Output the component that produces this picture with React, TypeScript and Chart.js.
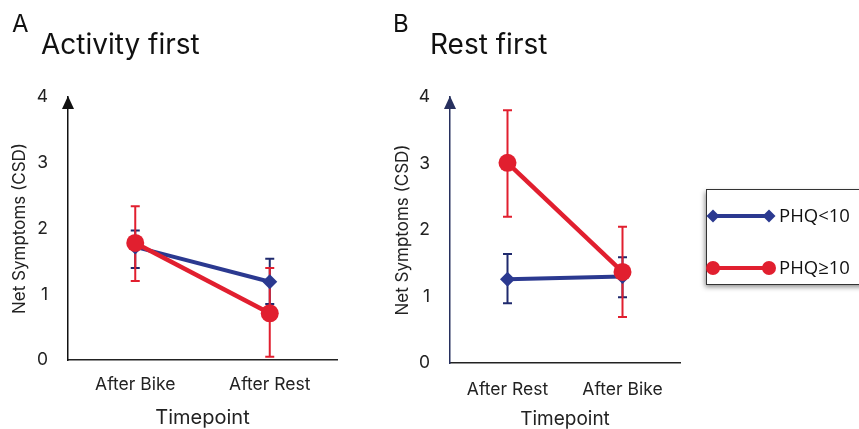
import React, { useEffect, useRef } from "react";
import { Chart, registerables } from "chart.js";

Chart.register(...registerables);

// ---------- data ----------
const categoriesA = ["After Bike", "After Rest"];
const categoriesB = ["After Rest", "After Bike"];
const yTicks = [0, 1, 2, 3, 4];

const seriesNames = ["PHQ<10", "PHQ≥10"];

// Panel A: Activity first
const phqLowA = [1.72, 1.19];
const phqLowALower = [1.40, 0.85];
const phqLowAUpper = [1.97, 1.54];
const phqHighA = [1.78, 0.71];
const phqHighALower = [1.20, 0.05];
const phqHighAUpper = [2.34, 1.40];

// Panel B: Rest first
const phqLowB = [1.26, 1.30];
const phqLowBLower = [0.90, 0.99];
const phqLowBUpper = [1.64, 1.59];
const phqHighB = [3.01, 1.37];
const phqHighBLower = [2.20, 0.69];
const phqHighBUpper = [3.80, 2.05];

const BLUE = "#2b3990";
const BLUE_ERR = "#1f2a6e";
const RED = "#e11f2f";
const FONT = "Inter, 'Liberation Sans', sans-serif";

const errorBarPlugin = {
  id: "errorBars",
  beforeDatasetsDraw(chart: any) {
    const ctx = chart.ctx;
    const xs = chart.scales.x;
    const ys = chart.scales.y;
    chart.data.datasets.forEach((ds: any) => {
      if (!ds.errLower) return;
      ctx.save();
      ctx.strokeStyle = ds.errColor;
      ctx.lineWidth = 2;
      ds.data.forEach((_: number, i: number) => {
        const x = xs.getPixelForValue(i);
        const y1 = ys.getPixelForValue(ds.errLower[i]);
        const y2 = ys.getPixelForValue(ds.errUpper[i]);
        ctx.beginPath();
        ctx.moveTo(x, y1);
        ctx.lineTo(x, y2);
        ctx.moveTo(x - 4.5, y1);
        ctx.lineTo(x + 4.5, y1);
        ctx.moveTo(x - 4.5, y2);
        ctx.lineTo(x + 4.5, y2);
        ctx.stroke();
      });
      ctx.restore();
    });
  },
};

const arrowPlugin = {
  id: "axisArrow",
  afterDraw(chart: any) {
    const opts = chart.options.plugins.axisArrow || {};
    const ctx = chart.ctx;
    const { left, top } = chart.chartArea;
    ctx.save();
    ctx.fillStyle = opts.color || "#000";
    ctx.beginPath();
    ctx.moveTo(left, top - 1);
    ctx.lineTo(left - 6, top + 12);
    ctx.lineTo(left + 6, top + 12);
    ctx.closePath();
    ctx.fill();
    ctx.restore();
  },
};

const legendBoxPlugin = {
  id: "legendBox",
  afterDraw(chart: any) {
    const opts = chart.options.plugins.legendBox || {};
    if (!opts.display) return;
    const ctx = chart.ctx;
    const bx = opts.x;
    const by = opts.y;
    const bw = opts.w;
    const bh = opts.h;
    ctx.save();
    ctx.shadowColor = "rgba(0,0,0,0.45)";
    ctx.shadowBlur = 5;
    ctx.shadowOffsetX = -1;
    ctx.shadowOffsetY = 3;
    ctx.fillStyle = "#fff";
    ctx.fillRect(bx, by, bw, bh);
    ctx.restore();
    ctx.save();
    ctx.strokeStyle = "#333";
    ctx.lineWidth = 1;
    ctx.strokeRect(bx + 0.5, by + 0.5, bw, bh);
    const datasets = chart.data.datasets;
    const rows = [
      datasets.find((d: any) => d.label === seriesNames[0]),
      datasets.find((d: any) => d.label === seriesNames[1]),
    ];
    rows.forEach((ds: any, i: number) => {
      const y = by + 27 + i * 52;
      const x1 = bx + 7;
      const x2 = bx + 63;
      ctx.strokeStyle = ds.borderColor;
      ctx.lineWidth = 4;
      ctx.beginPath();
      ctx.moveTo(x1, y);
      ctx.lineTo(x2, y);
      ctx.stroke();
      ctx.fillStyle = ds.borderColor;
      [x1, x2].forEach((px) => {
        ctx.beginPath();
        if (ds.pointStyle === "rectRot") {
          ctx.moveTo(px, y - 6.5);
          ctx.lineTo(px + 6.5, y);
          ctx.lineTo(px, y + 6.5);
          ctx.lineTo(px - 6.5, y);
          ctx.closePath();
        } else {
          ctx.arc(px, y, 7, 0, Math.PI * 2);
        }
        ctx.fill();
      });
      ctx.fillStyle = "#111";
      ctx.font = "18.5px 'Open Sans', sans-serif";
      ctx.textBaseline = "middle";
      ctx.textAlign = "left";
      ctx.fillText(ds.label, bx + 73, y + 1);
    });
    ctx.restore();
  },
};

type PanelProps = {
  left: number;
  width: number;
  categories: string[];
  low: number[];
  lowLower: number[];
  lowUpper: number[];
  high: number[];
  highLower: number[];
  highUpper: number[];
  axisLeft: number;
  axisRight: number;
  axisBottom: number;
  yAxisColor: string;
  yTitlePad: number;
  xTickPad: number;
  xTitleSize: number;
  xTitlePadBottom: number;
  legend?: boolean;
};

function Panel(p: PanelProps) {
  const ref = useRef<HTMLCanvasElement>(null);
  useEffect(() => {
    if (!ref.current) return;
    const chart = new Chart(ref.current, {
      type: "line",
      data: {
        labels: p.categories,
        datasets: [
          {
            label: seriesNames[0],
            data: p.low,
            borderColor: BLUE,
            backgroundColor: BLUE,
            borderWidth: 4,
            pointStyle: "rectRot",
            pointRadius: 7.5,
            pointBorderWidth: 0,
            order: 1,
            errLower: p.lowLower,
            errUpper: p.lowUpper,
            errColor: BLUE_ERR,
          } as any,
          {
            label: seriesNames[1],
            data: p.high,
            borderColor: RED,
            backgroundColor: RED,
            borderWidth: 4.5,
            pointStyle: "circle",
            pointRadius: 9,
            pointBorderWidth: 0,
            order: 0,
            errLower: p.highLower,
            errUpper: p.highUpper,
            errColor: RED,
          } as any,
        ],
      },
      options: {
        animation: false,
        responsive: false,
        maintainAspectRatio: false,
        layout: {
          padding: { left: 0, right: p.width - p.axisRight, top: 97, bottom: 0 },
        },
        plugins: {
          legend: { display: false },
          tooltip: { enabled: false },
          axisArrow: { color: p.yAxisColor },
          legendBox: { display: !!p.legend, x: 706 - p.left, y: 189, w: 200, h: 95 },
        } as any,
        scales: {
          x: {
            type: "category",
            offset: true,
            grid: { display: false, drawTicks: false },
            border: { display: true, color: "#222", width: 1.5 },
            ticks: {
              padding: p.xTickPad,
              color: "#222",
              font: { family: FONT, size: 17.5 },
            },
            title: {
              display: true,
              text: "Timepoint",
              color: "#222",
              font: { family: FONT, size: p.xTitleSize, lineHeight: 1 },
              padding: { top: 0, bottom: p.xTitlePadBottom },
            },
            afterFit: (s: any) => {
              s.height = 429 - p.axisBottom;
            },
          },
          y: {
            min: 0,
            max: 4,
            afterBuildTicks: (s: any) => {
              s.ticks = yTicks.map((v) => ({ value: v }));
            },
            grid: { display: false, drawTicks: false },
            border: { display: true, color: p.yAxisColor, width: 1.5 },
            ticks: {
              padding: 20,
              color: "#222",
              font: { family: FONT, size: 17.5 },
            },
            title: {
              display: true,
              text: "Net Symptoms (CSD)",
              color: "#222",
              font: { family: FONT, size: 17 },
              padding: { top: p.yTitlePad, bottom: 0 },
            },
            afterFit: (s: any) => {
              s.width = p.axisLeft;
            },
          },
        },
      },
      plugins: [errorBarPlugin, arrowPlugin, legendBoxPlugin],
    });
    return () => chart.destroy();
  }, []);
  return (
    <canvas
      ref={ref}
      width={p.width}
      height={429}
      style={{ position: "absolute", left: p.left, top: 0, width: p.width, height: 429 }}
    />
  );
}

const textStyle: React.CSSProperties = {
  position: "absolute",
  fontFamily: FONT,
  lineHeight: 1,
  color: "#111",
  whiteSpace: "nowrap",
};

export default function App() {
  return (
    <div
      style={{
        position: "absolute",
        left: 0,
        top: 0,
        width: 859,
        height: 429,
        background: "#fff",
        overflow: "hidden",
      }}
    >
      <Panel
        left={0}
        width={380}
        categories={categoriesA}
        low={phqLowA}
        lowLower={phqLowALower}
        lowUpper={phqLowAUpper}
        high={phqHighA}
        highLower={phqHighALower}
        highUpper={phqHighAUpper}
        axisLeft={68}
        axisRight={337}
        axisBottom={360}
        yAxisColor="#111"
        yTitlePad={10}
        xTickPad={14}
        xTitleSize={20}
        xTitlePadBottom={1}
        legend={false}
      />
      <Panel
        left={380}
        width={479}
        categories={categoriesB}
        low={phqLowB}
        lowLower={phqLowBLower}
        lowUpper={phqLowBUpper}
        high={phqHighB}
        highLower={phqHighBLower}
        highUpper={phqHighBUpper}
        axisLeft={70}
        axisRight={300}
        axisBottom={363}
        yAxisColor="#27305e"
        yTitlePad={13}
        xTickPad={16}
        xTitleSize={19}
        xTitlePadBottom={0}
        legend
      />
      <div style={{ ...textStyle, left: 12, top: 12, fontSize: 24 }}>A</div>
      <div style={{ ...textStyle, left: 41, top: 30, fontSize: 28 }}>Activity first</div>
      <div style={{ ...textStyle, left: 393, top: 12, fontSize: 24 }}>B</div>
      <div style={{ ...textStyle, left: 430, top: 30, fontSize: 28 }}>Rest first</div>
    </div>
  );
}
